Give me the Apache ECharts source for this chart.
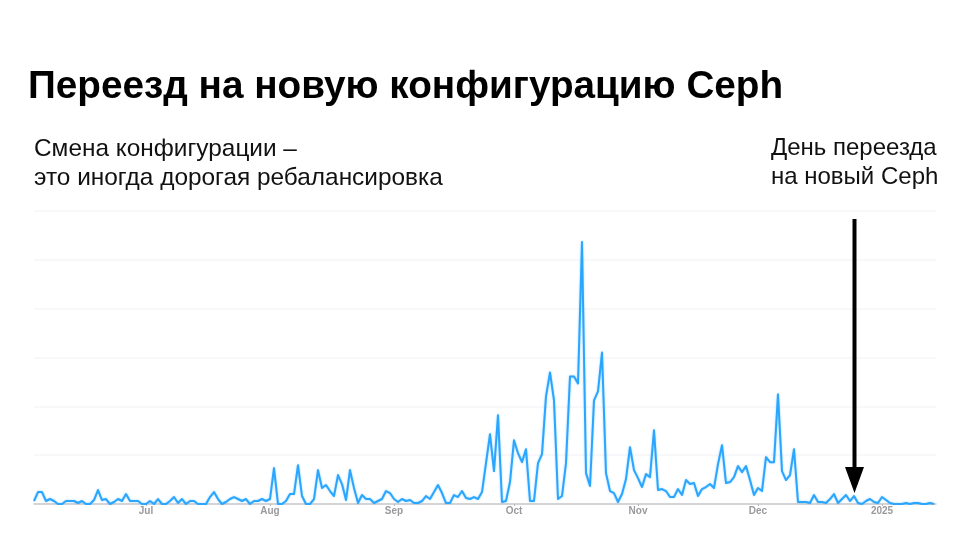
<!DOCTYPE html>
<html>
<head>
<meta charset="utf-8">
<title>Ceph</title>
<script src="https://cdn.jsdelivr.net/npm/echarts@6/dist/echarts.min.js"></script>
<style>
html, body { margin: 0; padding: 0; background: #fff; }
#chart { width: 960px; height: 540px; }
</style>
</head>
<body>
<div id="chart"></div>
<script>
// значения по дням, день 0 = 3 июня 2024
var valuesJun = [3, 12, 12, 3, 5, 3, 0, 0, 3, 3, 3, 1, 3, 0, 0, 4, 14, 4, 5, 0, 2, 5, 3, 10, 3, 3, 3, 0];
var valuesJul = [0, 3, 0, 5, 0, 0, 3, 7, 1, 5, 0, 3, 3, 0, 0, 0, 7, 12, 5, 0, 2, 5, 7, 5, 3, 5, 0, 3, 3, 5, 3];
var valuesAug = [5, 36, 0, 0, 3, 10, 10, 39, 8, 0, 0, 5, 34, 16, 19, 13, 8, 29, 20, 4, 34, 16, 1, 9, 5, 5, 1, 3, 5, 13, 11];
var valuesSep = [5, 2, 5, 3, 4, 1, 1, 3, 8, 5, 12, 19, 11, 1, 1, 9, 7, 13, 6, 5, 7, 5, 12, 41, 70, 33, 89, 2, 3, 22];
var valuesOct = [64, 51, 42, 55, 3, 3, 41, 50, 108, 132, 104, 5, 8, 41, 128, 128, 121, 263, 31, 18, 104, 113, 152, 31, 13, 11, 2, 10, 25, 57, 34];
var valuesNov = [26, 17, 30, 27, 74, 14, 15, 13, 7, 7, 15, 9, 24, 20, 21, 8, 15, 17, 20, 16, 40, 59, 21, 22, 27, 38, 32, 38, 24, 9];
var valuesDec = [16, 13, 47, 42, 42, 110, 33, 24, 29, 55, 2, 2, 2, 1, 9, 2, 2, 1, 5, 10, 1, 5, 9, 3, 8, 1, 0, 3, 5, 2, 1];
var valuesJan = [7, 4, 1, 0, 0, 0, 1, 0, 1, 1, 0, 0, 1, 0];
var values = [].concat(valuesJun, valuesJul, valuesAug, valuesSep, valuesOct, valuesNov, valuesDec, valuesJan);

// номера дней, с которых начинаются месяцы
var tickDays = [28, 59, 90, 120, 151, 181, 212];
var tickLabels = ['Jul', 'Aug', 'Sep', 'Oct', 'Nov', 'Dec', '2025'];

var points = values.map(function (v, i) {
	return [i, v];
});

var chart = echarts.init(document.getElementById('chart'));
var font = '"Liberation Sans", Arial, sans-serif';
chart.setOption({
	animation: false,
	backgroundColor: '#fff',
	title: [{
		text: 'Переезд на новую конфигурацию Ceph',
		left: 23,
		top: 63,
		textStyle: { fontFamily: font, fontSize: 38.7, fontWeight: 'bold', color: '#000' }
	}, {
		text: 'Смена конфигурации –\nэто иногда дорогая ребалансировка',
		left: 29,
		top: 130,
		textStyle: { fontFamily: font, fontSize: 24.4, fontWeight: 'normal', color: '#111', lineHeight: 29 }
	}, {
		text: 'День переезда\nна новый Ceph',
		left: 766,
		top: 129,
		textStyle: { fontFamily: font, fontSize: 24, fontWeight: 'normal', color: '#111', lineHeight: 29 }
	}],
	grid: { left: 34, right: 24, top: 211, bottom: 36 },
	xAxis: {
		type: 'value',
		min: 0,
		max: 225.5,
		splitLine: { show: false },
		axisLine: { onZero: false, lineStyle: { color: '#c8c8cc', width: 1.5 } },
		axisTick: { length: 2, lineStyle: { color: '#b8b8bc' }, customValues: tickDays },
		axisLabel: {
			customValues: tickDays,
			margin: 2,
			fontFamily: font,
			fontSize: 10,
			fontWeight: 'bold',
			color: '#9a9a9e',
			formatter: function (val) {
				return tickLabels[tickDays.indexOf(val)] || '';
			}
		}
	},
	yAxis: {
		type: 'value',
		min: 0,
		max: 294,
		interval: 49,
		axisLine: { show: false },
		axisTick: { show: false },
		axisLabel: { show: false },
		splitLine: { lineStyle: { color: '#f6f6fa', width: 1.5 } }
	},
	series: [{
		type: 'line',
		data: points,
		showSymbol: false,
		smooth: false,
		z: 3,
		lineStyle: { color: '#2ba6ff', width: 2, join: 'round', shadowBlur: 2, shadowColor: 'rgba(43,166,255,0.5)' },
		itemStyle: { color: '#2ba6ff' }
	}],
	// стрелка "день переезда"
	graphic: [{
		type: 'line',
		z: 10,
		shape: { x1: 854.5, y1: 219, x2: 854.5, y2: 470 },
		style: { stroke: '#000', lineWidth: 4 }
	}, {
		type: 'polygon',
		z: 10,
		shape: { points: [[845, 467], [864, 467], [854.5, 493]] },
		style: { fill: '#000' }
	}]
});
</script>
</body>
</html>
